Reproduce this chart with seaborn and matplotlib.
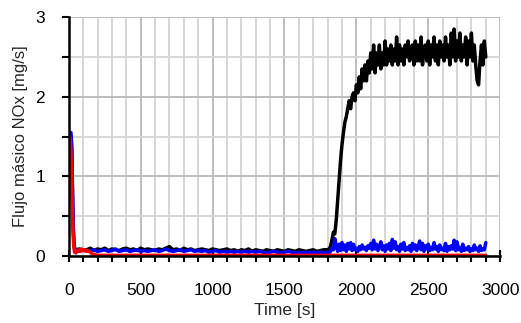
import matplotlib
matplotlib.use("Agg")
import matplotlib.pyplot as plt
from matplotlib.ticker import MultipleLocator
import seaborn as sns
import pandas as pd
import numpy as np

# ---- values ----
# black series
t_black = ([0, 5, 10, 15, 20, 25, 30, 35, 40]
           + list(range(50, 1800, 25))
           + list(range(1800, 2910, 10)))
v_black = ([1.40, 1.45, 1.50, 1.50, 1.35, 0.85, 0.40, 0.18, 0.10]
           # 50 .. 1775 every 25 s
           + [0.08, 0.09, 0.07, 0.08, 0.10, 0.07, 0.09, 0.08, 0.10, 0.07,
              0.09, 0.08, 0.07, 0.09, 0.10, 0.08, 0.09, 0.07, 0.10, 0.08,
              0.09, 0.08, 0.07, 0.09, 0.08, 0.10, 0.12, 0.08, 0.09, 0.07,
              0.10, 0.08, 0.09, 0.07, 0.08, 0.09, 0.08, 0.07, 0.09, 0.08,
              0.07, 0.08, 0.09, 0.07, 0.08, 0.06, 0.08, 0.07, 0.09, 0.06,
              0.08, 0.07, 0.06, 0.08, 0.07, 0.06, 0.08, 0.07, 0.06, 0.08,
              0.07, 0.06, 0.08, 0.07, 0.06, 0.07, 0.08, 0.06, 0.07, 0.08]
           # 1800 .. 2900 every 10 s
           + [0.08, 0.09, 0.12, 0.20, 0.30, 0.28, 0.45, 0.70, 0.95, 1.20,
              1.40, 1.55, 1.68, 1.75, 1.85, 1.95, 1.85, 2.00, 2.05, 1.95,
              2.15, 2.05, 2.25, 2.10, 2.35, 2.20, 2.40, 2.20, 2.45, 2.30,
              2.55, 2.35, 2.65, 2.30, 2.55, 2.40, 2.65, 2.35, 2.55, 2.40,
              2.70, 2.40, 2.60, 2.45, 2.65, 2.40, 2.60, 2.45, 2.75, 2.40,
              2.65, 2.45, 2.60, 2.40, 2.65, 2.50, 2.70, 2.45, 2.60, 2.65,
              2.40, 2.70, 2.45, 2.65, 2.45, 2.75, 2.40, 2.60, 2.65, 2.45,
              2.70, 2.40, 2.65, 2.50, 2.75, 2.45, 2.65, 2.40, 2.70, 2.50,
              2.65, 2.45, 2.75, 2.50, 2.65, 2.40, 2.80, 2.50, 2.85, 2.45,
              2.70, 2.50, 2.80, 2.45, 2.65, 2.50, 2.75, 2.40, 2.70, 2.50,
              2.80, 2.45, 2.65, 2.40, 2.20, 2.15, 2.45, 2.65, 2.40, 2.70,
              2.50])

# blue series
t_blue = ([0, 5, 10, 15, 20, 25, 30, 35, 40]
          + list(range(50, 1800, 25))
          + list(range(1800, 2910, 10)))
v_blue = ([1.45, 1.50, 1.55, 1.55, 1.40, 0.90, 0.45, 0.20, 0.10]
          + [0.07, 0.06, 0.08, 0.06, 0.07, 0.08, 0.06, 0.07, 0.08, 0.06,
             0.07, 0.09, 0.06, 0.07, 0.08, 0.06, 0.07, 0.08, 0.06, 0.07,
             0.06, 0.07, 0.08, 0.06, 0.07, 0.09, 0.07, 0.06, 0.07, 0.08,
             0.06, 0.07, 0.08, 0.06, 0.07, 0.06, 0.07, 0.05, 0.06, 0.07,
             0.05, 0.06, 0.05, 0.06, 0.05, 0.06, 0.05, 0.06, 0.05, 0.06,
             0.05, 0.06, 0.05, 0.04, 0.05, 0.06, 0.05, 0.04, 0.05, 0.06,
             0.05, 0.04, 0.05, 0.04, 0.05, 0.04, 0.05, 0.04, 0.05, 0.04]
          + [0.05, 0.04, 0.06, 0.10, 0.08, 0.22, 0.12, 0.06, 0.15, 0.07,
             0.17, 0.08, 0.14, 0.06, 0.16, 0.09, 0.17, 0.07, 0.15, 0.08,
             0.10, 0.06, 0.12, 0.08, 0.14, 0.09, 0.11, 0.07, 0.13, 0.10,
             0.16, 0.08, 0.20, 0.09, 0.15, 0.07, 0.12, 0.18, 0.08, 0.13,
             0.06, 0.14, 0.09, 0.16, 0.07, 0.21, 0.10, 0.18, 0.08, 0.12,
             0.06, 0.15, 0.09, 0.17, 0.07, 0.11, 0.08, 0.13, 0.06, 0.16,
             0.09, 0.14, 0.07, 0.12, 0.19, 0.08, 0.16, 0.06, 0.13, 0.09,
             0.15, 0.07, 0.11, 0.08, 0.17, 0.09, 0.12, 0.06, 0.14, 0.08,
             0.10, 0.07, 0.16, 0.06, 0.12, 0.08, 0.13, 0.09, 0.20, 0.07,
             0.18, 0.08, 0.11, 0.06, 0.15, 0.07, 0.10, 0.08, 0.12, 0.06,
             0.09, 0.07, 0.14, 0.08, 0.10, 0.06, 0.13, 0.07, 0.09, 0.08,
             0.17])

# red series
t_red = [0, 5, 10, 15, 20, 25, 30, 35, 40, 50, 60, 70, 80, 90, 100, 110,
         120, 130, 140, 150, 160, 180, 200, 300, 500, 1000, 1500, 2000,
         2500, 2900]
v_red = [1.45, 1.50, 1.48, 1.30, 1.00, 0.60, 0.30, 0.12, 0.05, 0.04,
         0.07, 0.08, 0.06, 0.09, 0.07, 0.08, 0.06, 0.07, 0.06, 0.05,
         0.03, 0.02, 0.01, 0.01, 0.01, 0.01, 0.01, 0.01, 0.01, 0.01]

df = pd.concat([
    pd.DataFrame({"t": t_black, "v": v_black, "serie": "black"}),
    pd.DataFrame({"t": t_blue, "v": v_blue, "serie": "blue"}),
    pd.DataFrame({"t": t_red, "v": v_red, "serie": "red"}),
])

sns.set_theme(style="ticks")
plt.rcParams['font.family'] = ['Liberation Sans', 'DejaVu Sans']

fig, ax = plt.subplots(figsize=(5.21, 3.23), dpi=100)
plt.subplots_adjust(left=0.132, right=0.96, bottom=0.207, top=0.947)

sns.lineplot(data=df, x="t", y="v", hue="serie",
             palette={"black": "#000000", "blue": "#0000ff", "red": "#ff0000"},
             linewidth=2.5, legend=False, sort=False, ax=ax)

ax.set_xlim(0, 3000)
ax.set_ylim(0, 3)
ax.xaxis.set_major_locator(MultipleLocator(500))
ax.xaxis.set_minor_locator(MultipleLocator(100))
ax.yaxis.set_major_locator(MultipleLocator(1))
ax.yaxis.set_minor_locator(MultipleLocator(0.5))

ax.grid(which="major", color="#bdbdbd", linewidth=1.4)
ax.grid(which="minor", color="#d6d6d6", linewidth=1.4)
ax.set_axisbelow(True)

for s in ["top", "right"]:
    ax.spines[s].set_visible(False)
for s in ["left", "bottom"]:
    ax.spines[s].set_color("black")
    ax.spines[s].set_linewidth(1.8)

ax.tick_params(which="major", length=5, width=1.5,
               colors="black", labelsize=12.5)
ax.tick_params(axis="x", which="major", direction="inout", length=8, pad=15)
ax.tick_params(axis="x", which="minor", direction="out", length=4, width=1.5,
               colors="black")
ax.tick_params(axis="y", which="major", direction="out", length=5, pad=12)
ax.tick_params(axis="y", which="minor", direction="out", length=5, width=1.5,
               colors="black")

ax.set_xlabel("Time [s]", fontsize=12.5, labelpad=4)
ax.set_ylabel("Flujo másico NOx [mg/s]", fontsize=12, labelpad=5)

fig.savefig("out.png", dpi=100)
